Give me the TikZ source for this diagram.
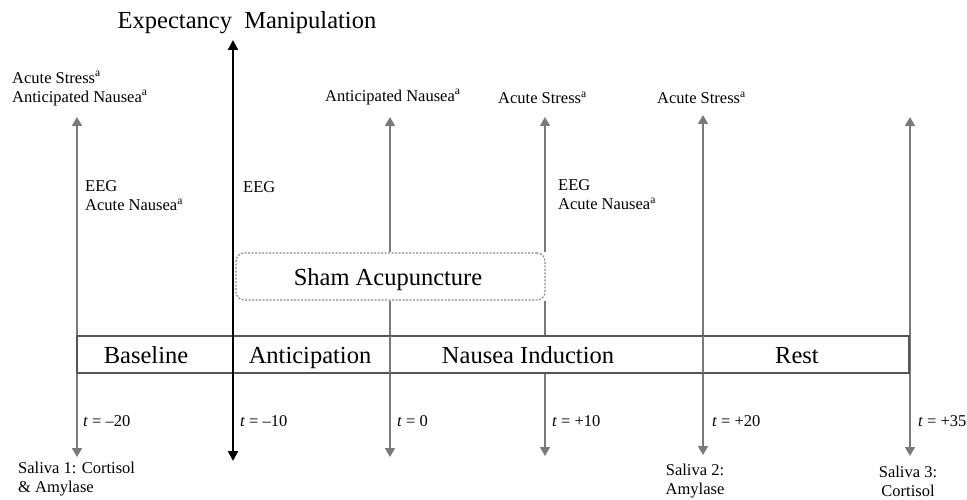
\documentclass[tikz,border=0pt]{standalone}
\usepackage{fontspec}
\setmainfont{Liberation Serif}
\usetikzlibrary{arrows.meta}
\definecolor{arrgray}{HTML}{7A7A7A}
\definecolor{boxgray}{HTML}{555555}
\definecolor{dashgray}{HTML}{8A8A8A}
\begin{document}
\begin{tikzpicture}[x=1pt,y=-1pt,
  small/.style={font=\fontsize{16.5}{19}\selectfont, inner sep=0pt, align=left},
  big/.style={font=\fontsize{24.5}{28}\selectfont, inner sep=0pt, anchor=base},
  grayarr/.style={draw=arrgray, line width=1.6pt,
     arrows={Triangle[width=10pt,length=9pt]-Triangle[width=10pt,length=9pt]}},
  blackarr/.style={draw=black, line width=2pt,
     arrows={Triangle[width=10pt,length=10pt]-Triangle[width=10pt,length=10pt]}},
  phasebox/.style={draw=boxgray, line width=1.5pt, fill=white},
  divider/.style={draw=arrgray, line width=1.6pt},
  shambox/.style={draw=dashgray, line width=1.2pt, dash pattern=on 2pt off 1.5pt, rounded corners=8pt}
]
\useasboundingbox (0,0) rectangle (967,500);

% arrow end points
\coordinate (a1t) at (77,117);  \coordinate (a1b) at (77,457);
\coordinate (a2t) at (390,117); \coordinate (a2b) at (390,457);
\coordinate (a3t) at (545,117); \coordinate (a3b) at (545,456);
\coordinate (a4t) at (703,115); \coordinate (a4b) at (703,455);
\coordinate (a5t) at (910,117); \coordinate (a5b) at (910,456);
\coordinate (emt) at (233,40);  \coordinate (emb) at (233,461);

% gray time arrows
\draw[grayarr] (a1t) -- (a1b);
\draw[grayarr] (a2t) -- (a2b);
\draw[grayarr] (a3t) -- (a3b);
\draw[grayarr] (a4t) -- (a4b);
\draw[grayarr] (a5t) -- (a5b);

% timeline box
\node[phasebox, minimum width=832pt, minimum height=37pt, inner sep=0pt] (timeline) at (493,354.5) {};
\coordinate (d1t) at (390,336); \coordinate (d1b) at (390,373);
\coordinate (d2t) at (703,336); \coordinate (d2b) at (703,373);
\draw[divider] (d1t) -- (d1b);
\draw[divider] (d2t) -- (d2b);

% expectancy manipulation arrow
\draw[blackarr] (emt) -- (emb);

% sham acupuncture box
\fill[white] (235.5,252) rectangle (547,301);
\node[shambox, minimum width=309pt, minimum height=47pt, inner sep=0pt] (sham) at (390.5,276.5) {};
\node[big] (shamlbl) at (388,285) {Sham Acupuncture};

% phase labels
\node[big] (baseline) at (146,363) {Baseline};
\node[big] (anticip) at (310,363) {Anticipation};
\node[big] (induction) at (528,363) {Nausea Induction};
\node[big] (rest) at (797,363) {Rest};

% title
\node[big] (title) at (247,29) {Expectancy\ \ Manipulation};

% top labels
\node[small, anchor=west] (top1) at (12,88.5) {Acute Stress\textsuperscript{a}\\Anticipated Nausea\textsuperscript{a}};
\node[small, anchor=west] (top2) at (325,97) {Anticipated Nausea\textsuperscript{a}};
\node[small, anchor=west] (top3) at (498,98) {Acute Stress\textsuperscript{a}};
\node[small, anchor=west] (top4) at (657,98) {Acute Stress\textsuperscript{a}};

% measurement labels
\node[small, anchor=west] (eeg1) at (85,196) {EEG\\Acute Nausea\textsuperscript{a}};
\node[small, anchor=west] (eeg2) at (243,187) {EEG};
\node[small, anchor=west] (eeg3) at (558,195) {EEG\\Acute Nausea\textsuperscript{a}};

% time labels
\node[small, anchor=west] (t1) at (83,421) {\textit{t} = –20};
\node[small, anchor=west] (t2) at (240,421) {\textit{t} = –10};
\node[small, anchor=west] (t3) at (397,421) {\textit{t} = 0};
\node[small, anchor=west] (t4) at (552,421) {\textit{t} = +10};
\node[small, anchor=west] (t5) at (712,421) {\textit{t} = +20};
\node[small, anchor=west] (t6) at (918,421) {\textit{t} = +35};

% saliva labels
\node[small, anchor=west] (sal1) at (18,479) {Saliva 1: Cortisol\\\& Amylase};
\node[small, align=center] (sal2) at (695,481) {Saliva 2:\\Amylase};
\node[small, align=center] (sal3) at (908,481) {Saliva 3:\\Cortisol};
\end{tikzpicture}
\end{document}
